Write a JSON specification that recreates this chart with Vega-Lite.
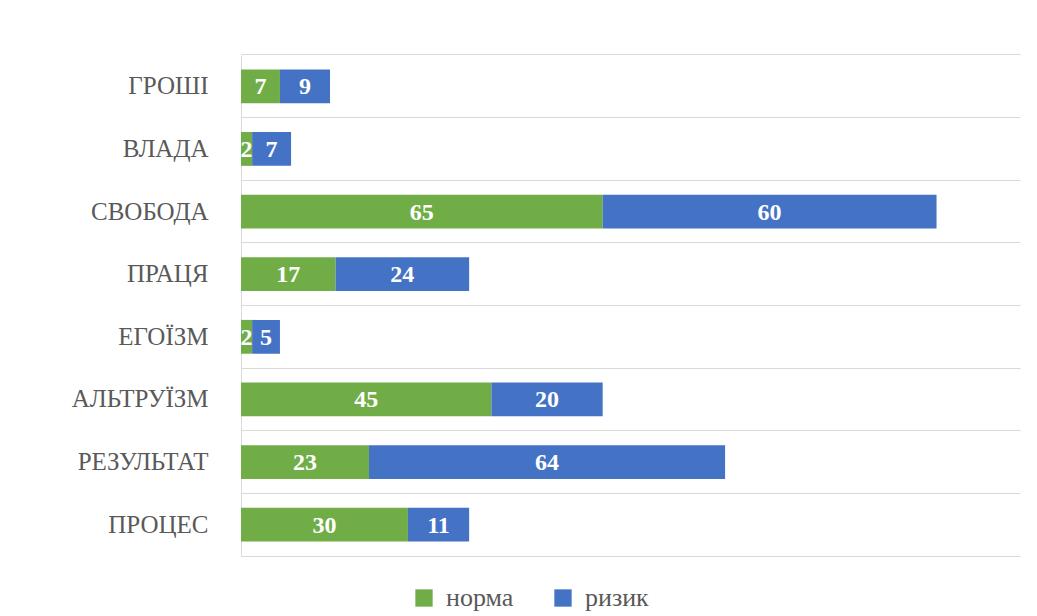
{
  "$schema": "https://vega.github.io/schema/vega-lite/v6.json",
  "width": 779,
  "height": 501,
  "autosize": {"type": "none"},
  "padding": {"left": 241, "top": 55, "right": 17, "bottom": 60},
  "background": "white",
  "config": {
    "view": {"stroke": null},
    "legend": {"labelFont": "Liberation Serif", "labelFontSize": 26, "labelColor": "#595959"}
  },
  "data": {
    "values": [
      {"category": "ГРОШІ", "group": "норма", "value": 7},
      {"category": "ГРОШІ", "group": "ризик", "value": 9},
      {"category": "ВЛАДА", "group": "норма", "value": 2},
      {"category": "ВЛАДА", "group": "ризик", "value": 7},
      {"category": "СВОБОДА", "group": "норма", "value": 65},
      {"category": "СВОБОДА", "group": "ризик", "value": 60},
      {"category": "ПРАЦЯ", "group": "норма", "value": 17},
      {"category": "ПРАЦЯ", "group": "ризик", "value": 24},
      {"category": "ЕГОЇЗМ", "group": "норма", "value": 2},
      {"category": "ЕГОЇЗМ", "group": "ризик", "value": 5},
      {"category": "АЛЬТРУЇЗМ", "group": "норма", "value": 45},
      {"category": "АЛЬТРУЇЗМ", "group": "ризик", "value": 20},
      {"category": "РЕЗУЛЬТАТ", "group": "норма", "value": 23},
      {"category": "РЕЗУЛЬТАТ", "group": "ризик", "value": 64},
      {"category": "ПРОЦЕС", "group": "норма", "value": 30},
      {"category": "ПРОЦЕС", "group": "ризик", "value": 11}
    ]
  },
  "resolve": {"axis": {"y": "independent"}},
  "layer": [
    {
      "mark": {"type": "bar"},
      "encoding": {
        "y": {
          "field": "category", "type": "nominal", "sort": null,
          "scale": {"paddingInner": 0.46, "paddingOuter": 0.23},
          "axis": {
            "orient": "left", "title": null, "ticks": false, "grid": false,
            "domain": true, "domainColor": "#d9d9d9",
            "labelFont": "Liberation Serif", "labelFontSize": 25,
            "labelColor": "#595959", "labelPadding": 33
          }
        },
        "x": {
          "field": "value", "type": "quantitative", "stack": "zero",
          "scale": {"domain": [0, 140], "nice": false},
          "axis": {
            "title": null, "labels": false, "ticks": false, "grid": false,
            "domain": true, "domainColor": "#d9d9d9"
          }
        },
        "color": {
          "field": "group", "type": "nominal",
          "scale": {"domain": ["норма", "ризик"], "range": ["#70AD47", "#4472C4"]},
          "legend": {
            "title": null, "orient": "none", "direction": "horizontal",
            "legendX": 170, "legendY": 530,
            "symbolType": "square", "symbolSize": 300, "symbolStrokeWidth": 0,
            "symbolOpacity": 1,
            "labelFont": "Liberation Serif", "labelFontSize": 26,
            "labelColor": "#595959", "labelOffset": 9, "columnPadding": 36
          }
        },
        "order": {"field": "group", "sort": "ascending"}
      }
    },
    {
      "mark": {"type": "text", "color": "white", "font": "Liberation Serif", "fontWeight": "bold", "fontSize": 24, "baseline": "middle", "align": "center", "dy": 1},
      "encoding": {
        "y": {
          "field": "category", "type": "nominal", "sort": null,
          "axis": {
            "orient": "left", "title": null, "labels": false, "ticks": false,
            "domain": false, "grid": true, "gridColor": "#d9d9d9", "gridWidth": 1,
            "bandPosition": -0.426
          }
        },
        "x": {"field": "value", "type": "quantitative", "stack": "zero", "bandPosition": 0.5},
        "text": {"field": "value", "type": "quantitative"},
        "order": {"field": "group", "sort": "ascending"},
        "detail": {"field": "group"}
      }
    }
  ]
}
